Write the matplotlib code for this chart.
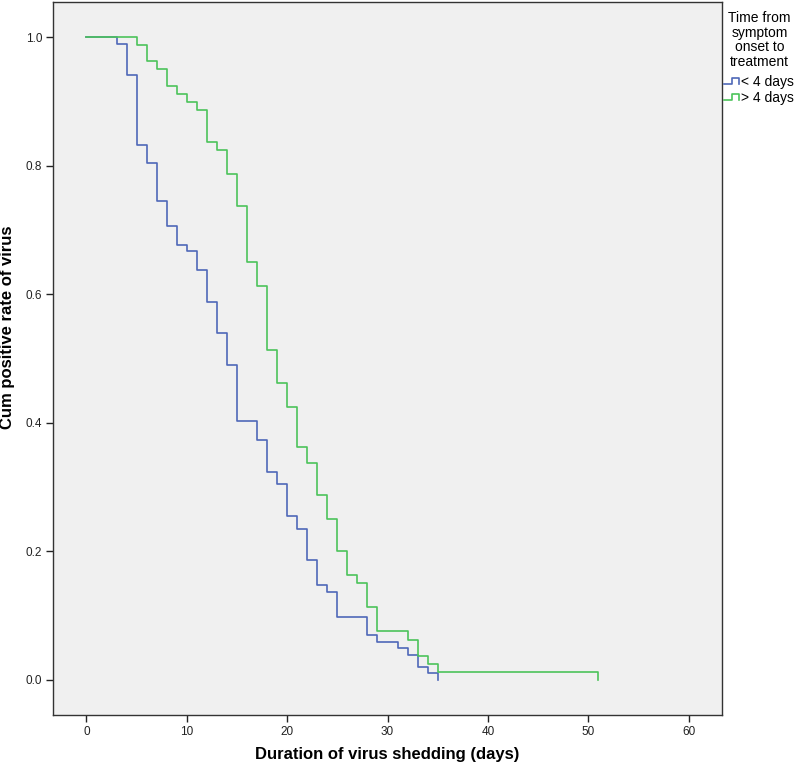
import matplotlib.pyplot as plt
from matplotlib.lines import Line2D
from matplotlib.legend_handler import HandlerBase

# data (days, cumulative positive rate after each step)
days_lt4 = [0, 3, 4, 5, 6, 7, 8, 9, 10, 11, 12, 13, 14, 15, 17, 18, 19, 20,
            21, 22, 23, 24, 25, 28, 29, 31, 32, 33, 34, 35]
rate_lt4 = [1.0, 0.990, 0.941, 0.833, 0.804, 0.745, 0.706, 0.676, 0.667, 0.637,
            0.588, 0.539, 0.490, 0.402, 0.373, 0.324, 0.304, 0.255, 0.235, 0.186,
            0.147, 0.137, 0.098, 0.069, 0.059, 0.049, 0.039, 0.020, 0.010, 0.0]

days_gt4 = [0, 5, 6, 7, 8, 9, 10, 11, 12, 13, 14, 15, 16, 17, 18, 19, 20, 21,
            22, 23, 24, 25, 26, 27, 28, 29, 32, 33, 34, 35, 51]
rate_gt4 = [1.0, 0.9875, 0.9625, 0.95, 0.925, 0.9125, 0.9, 0.8875, 0.8375, 0.825,
            0.7875, 0.7375, 0.65, 0.6125, 0.5125, 0.4625, 0.425, 0.3625, 0.3375,
            0.2875, 0.25, 0.2, 0.1625, 0.15, 0.1125, 0.075, 0.0625, 0.0375, 0.025,
            0.0125, 0.0]

group_labels = ['< 4 days', '> 4 days']
x_ticks = [0, 10, 20, 30, 40, 50, 60]
y_ticks = [0.0, 0.2, 0.4, 0.6, 0.8, 1.0]

plt.rcParams['font.family'] = ['Liberation Sans', 'DejaVu Sans']


# little step icon like the SPSS legend
class StepHandler(HandlerBase):
    def create_artists(self, legend, orig_handle, xdescent, ydescent,
                       width, height, fontsize, trans):
        x0 = -xdescent
        y0 = -ydescent
        xs = [x0, x0 + 0.5 * width, x0 + 0.5 * width, x0 + width, x0 + width]
        ys = [y0 + 0.2 * height, y0 + 0.2 * height, y0 + 0.8 * height,
              y0 + 0.8 * height, y0 + 0.2 * height]
        line = Line2D(xs, ys, color=orig_handle.get_color(),
                      lw=orig_handle.get_linewidth())
        line.set_transform(trans)
        return [line]


fig = plt.figure(figsize=(8, 7.71), dpi=100)
ax = fig.add_axes([53.3 / 800, 56 / 771, 668.4 / 800, 713 / 771])
ax.set_facecolor('#f0f0f0')

l1, = ax.step(days_lt4, rate_lt4, where='post', color='#4f68b8', lw=1.2)
l2, = ax.step(days_gt4, rate_gt4, where='post', color='#4cc35a', lw=1.2)

ax.set_xlim(-3.3, 63.3)
ax.set_ylim(-0.055, 1.055)
ax.set_xticks(x_ticks)
ax.set_yticks(y_ticks)
ax.set_yticklabels([f'{v:.1f}' for v in y_ticks])
ax.tick_params(direction='out', length=5, width=1, pad=3, labelsize=8.5,
               colors='#222222')

for s in ax.spines.values():
    s.set_color('#333333')
    s.set_linewidth(1)

ax.set_xlabel('Duration of virus shedding (days)', fontsize=12, fontweight='bold')
ax.xaxis.set_label_coords(0.5, -0.045)
ax.xaxis.label.set_va('top')
ax.set_ylabel('Cum positive rate of virus', fontsize=12, fontweight='bold')
ax.yaxis.set_label_coords(-0.057, 0.544)

# legend title + entries, outside on the right
fig.text(759.5 / 800, 1 - 11 / 771, 'Time from\nsymptom\nonset to\ntreatment',
         ha='center', va='top', fontsize=10, linespacing=1.05)
ax.legend([l1, l2], group_labels, loc='upper left',
          bbox_to_anchor=(724 / 800, 1 - 75 / 771), bbox_transform=fig.transFigure,
          frameon=False, handlelength=1.1, handletextpad=0.1, borderaxespad=0,
          borderpad=0, labelspacing=0.15, fontsize=10,
          handler_map={Line2D: StepHandler()})

fig.savefig('out.png', dpi=100)
